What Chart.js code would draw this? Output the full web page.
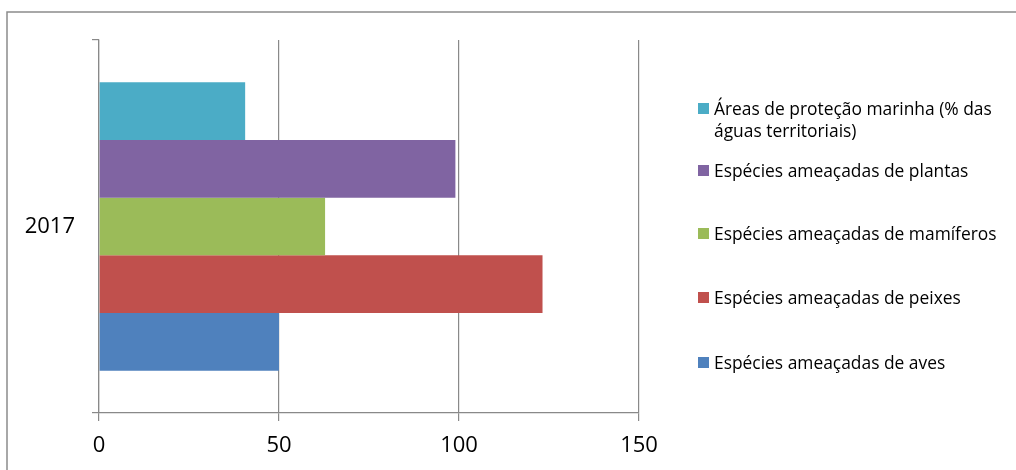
<!DOCTYPE html>
<html>
<head>
<meta charset="utf-8">
<script src="https://cdn.jsdelivr.net/npm/chart.js@4.4.0/dist/chart.umd.min.js"></script>
<style>
  html, body { margin: 0; padding: 0; background: #fff; }
  #wrap { position: relative; width: 1016px; height: 470px; }
  #legenda { position: absolute; left: 698px; top: 0; font-family: "Open Sans", sans-serif; font-size: 17.4px; color: #000; }
  .item { position: absolute; left: 0; width: 310px; display: flex; align-items: flex-start; }
  .item .cor { width: 11px; height: 11px; margin-top: 6px; margin-right: 5px; flex: none; }
  .item .txt { line-height: 22px; width: 292px; }
</style>
</head>
<body>
<div id="wrap">
  <canvas id="grafico" width="1016" height="470"></canvas>
  <div id="legenda"></div>
</div>
<script>
  const categorias = ['2017'];
  const series = [
    'Áreas de proteção marinha (% das águas territoriais)',
    'Espécies ameaçadas de plantas',
    'Espécies ameaçadas de mamíferos',
    'Espécies ameaçadas de peixes',
    'Espécies ameaçadas de aves'
  ];
  const valores = [
    [40.6],
    [99],
    [62.8],
    [123.2],
    [50]
  ];
  const cores = ['#4BACC6', '#8064A2', '#9BBB59', '#C0504D', '#4F81BD'];
  const ticksX = [0, 50, 100, 150];

  // topo de cada item da legenda (px)
  const topoLegenda = [97, 159, 222, 286, 351];

  const cinza = '#898989';

  // moldura (só topo e esquerda aparecem no recorte)
  const moldura = {
    id: 'moldura',
    beforeDraw(chart) {
      const c = chart.ctx;
      c.save();
      c.strokeStyle = '#8c8c8c';
      c.lineWidth = 1.5;
      c.beginPath();
      c.moveTo(7, 470);
      c.lineTo(7, 12);
      c.lineTo(1016, 12);
      c.stroke();
      c.restore();
    }
  };

  const ctx = document.getElementById('grafico').getContext('2d');
  new Chart(ctx, {
    type: 'bar',
    data: {
      labels: categorias,
      datasets: series.map((nome, i) => ({
        label: nome,
        data: valores[i],
        backgroundColor: cores[i],
        borderWidth: 0
      }))
    },
    options: {
      indexAxis: 'y',
      responsive: false,
      animation: false,
      categoryPercentage: 0.773,
      barPercentage: 1,
      layout: { padding: { top: 40, right: 377, left: 0, bottom: 0 } },
      plugins: { legend: { display: false }, tooltip: { enabled: false } },
      scales: {
        x: {
          min: 0,
          max: 150,
          afterBuildTicks(axis) { axis.ticks = ticksX.map(v => ({ value: v })); },
          afterFit(axis) { axis.height = 57; },
          grid: { color: cinza, lineWidth: 1.2, tickLength: 8 },
          border: { color: cinza, width: 1.2 },
          ticks: {
            padding: 12,
            color: '#000',
            font: { family: 'Open Sans', size: 22 }
          }
        },
        y: {
          afterFit(axis) { axis.width = 99; },
          grid: { drawOnChartArea: false, color: cinza, lineWidth: 1.2, tickLength: 7 },
          border: { color: cinza, width: 1.2 },
          ticks: {
            padding: 17,
            color: '#000',
            font: { family: 'Open Sans', size: 22 }
          }
        }
      }
    },
    plugins: [moldura]
  });

  // legenda em HTML
  const leg = document.getElementById('legenda');
  series.forEach((nome, i) => {
    const it = document.createElement('div');
    it.className = 'item';
    it.style.top = topoLegenda[i] + 'px';
    it.innerHTML = '<span class="cor" style="background:' + cores[i] + '"></span><span class="txt"></span>';
    it.querySelector('.txt').textContent = nome;
    leg.appendChild(it);
  });
</script>
</body>
</html>
